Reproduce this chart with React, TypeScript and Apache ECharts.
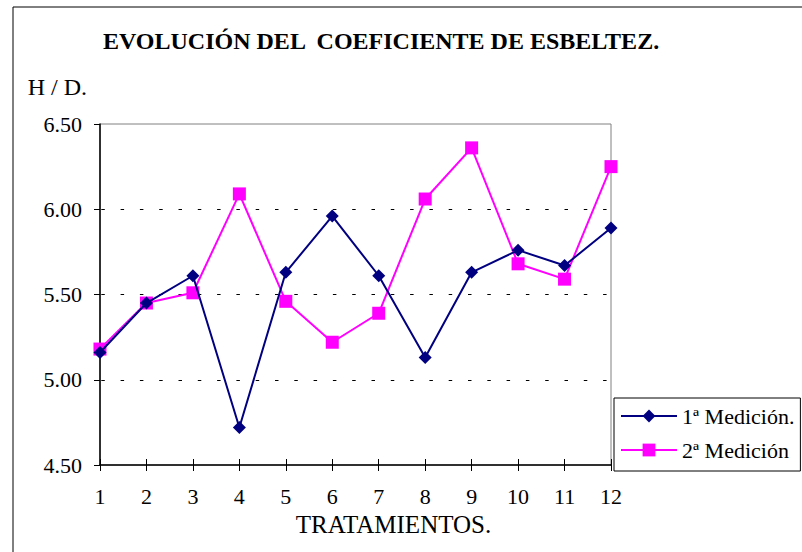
import React, { useEffect, useRef } from "react";
import * as echarts from "echarts";

const categories = ["1", "2", "3", "4", "5", "6", "7", "8", "9", "10", "11", "12"];
const medicion1 = [5.16, 5.45, 5.61, 4.72, 5.63, 5.96, 5.61, 5.13, 5.63, 5.76, 5.67, 5.89];
const medicion2 = [5.18, 5.45, 5.51, 6.09, 5.46, 5.22, 5.39, 6.06, 6.36, 5.68, 5.59, 6.25];
const seriesNames = ["1ª Medición.", "2ª Medición"];
const titleText = "EVOLUCIÓN DEL  COEFICIENTE DE ESBELTEZ.";
const yName = "H / D.";
const xName = "TRATAMIENTOS.";

const FONT = "Liberation Serif";

export default function App() {
  const ref = useRef<HTMLDivElement>(null);
  useEffect(() => {
    if (!ref.current) return;
    const chart = echarts.init(ref.current, null, { renderer: "svg" });
    chart.setOption({
      animation: false,
      backgroundColor: "#ffffff",
      textStyle: { fontFamily: FONT },
      title: {
        text: titleText,
        left: 103,
        top: 29,
        padding: 0,
        textStyle: { fontFamily: FONT, fontSize: 24, fontWeight: "bold", color: "#000" },
      },
      graphic: [
        {
          type: "rect",
          shape: { x: 13, y: 7, width: 800, height: 560 },
          style: { fill: "none", stroke: "#000", lineWidth: 1 },
          silent: true,
        },
      ],
      legend: {
        orient: "vertical",
        left: 614,
        top: 398,
        padding: [7, 6, 10, 6],
        itemWidth: 56,
        itemHeight: 16,
        itemGap: 12,
        borderColor: "#000",
        borderWidth: 1,
        backgroundColor: "#fff",
        textStyle: { fontFamily: FONT, fontSize: 22, color: "#000" },
        data: seriesNames,
      },
      grid: {
        left: 100,
        right: 191,
        top: 124,
        bottom: 87,
        show: true,
        borderColor: "#808080",
        borderWidth: 1,
        backgroundColor: "#fff",
      },
      xAxis: [
        {
          type: "category",
          data: categories,
          boundaryGap: false,
          name: xName,
          nameLocation: "middle",
          nameGap: 43,
          nameTextStyle: { fontFamily: FONT, fontSize: 25, color: "#000", padding: [0, 0, 0, 76] },
          axisLine: { lineStyle: { color: "#000", width: 1.5 } },
          axisTick: { show: true, length: 6, lineStyle: { color: "#000" }, alignWithLabel: true },
          axisLabel: { margin: 20, fontFamily: FONT, fontSize: 22, color: "#000" },
          splitLine: { show: false },
        },
        {
          type: "category",
          data: categories,
          boundaryGap: false,
          position: "bottom",
          axisLine: { show: false },
          axisTick: { show: true, inside: true, length: 6, lineStyle: { color: "#000" } },
          axisLabel: { show: false },
          splitLine: { show: false },
        },
      ],
      yAxis: {
        type: "value",
        min: 4.5,
        max: 6.5,
        interval: 0.5,
        name: yName,
        nameLocation: "end",
        nameGap: 25,
        nameTextStyle: { fontFamily: FONT, fontSize: 24, color: "#000", align: "right", padding: [0, 13, 0, 0] },
        axisLine: { show: true, lineStyle: { color: "#000", width: 1.5 } },
        axisTick: { show: true, length: 6, lineStyle: { color: "#000" } },
        axisLabel: {
          margin: 18,
          fontFamily: FONT,
          fontSize: 22,
          color: "#000",
          formatter: (v: number) => v.toFixed(2),
        },
        splitLine: {
          show: true,
          showMinLine: false,
          showMaxLine: false,
          lineStyle: { color: "#000", type: [3.5, 15.8], dashOffset: 18, width: 1 },
        },
      },
      series: [
        {
          name: seriesNames[0],
          type: "line",
          xAxisIndex: 0,
          data: medicion1,
          symbol: "diamond",
          symbolSize: 13,
          color: "#000080",
          lineStyle: { color: "#000080", width: 2 },
          itemStyle: { color: "#000080" },
          z: 3,
        },
        {
          name: seriesNames[1],
          type: "line",
          xAxisIndex: 0,
          data: medicion2,
          symbol: "rect",
          symbolSize: 13,
          color: "#ff00ff",
          lineStyle: { color: "#ff00ff", width: 2 },
          itemStyle: { color: "#ff00ff" },
          z: 2,
        },
      ],
    });
    return () => chart.dispose();
  }, []);
  return (
    <div
      ref={ref}
      style={{ position: "absolute", left: 0, top: 0, width: 802, height: 552 }}
    />
  );
}
